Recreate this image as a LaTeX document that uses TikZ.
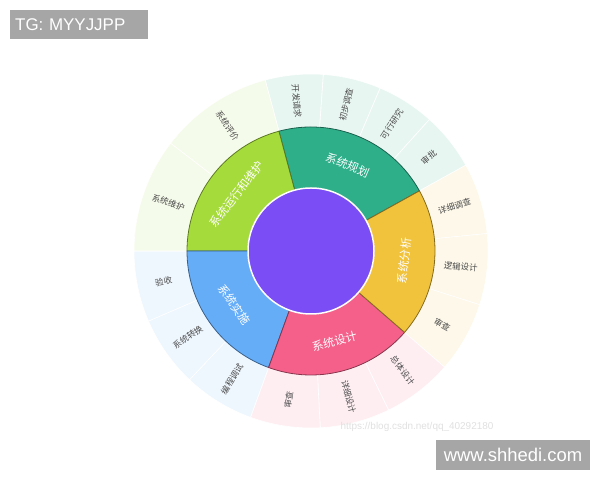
\documentclass[tikz,border=0pt]{standalone}
\usepackage{fontspec}
\setmainfont{Noto Sans CJK SC}
\newfontfamily\markfont{Liberation Sans}

\definecolor{core}{HTML}{7B4DF5}
\definecolor{plan}{HTML}{2EAF8A}
\definecolor{anal}{HTML}{F1C23B}
\definecolor{desg}{HTML}{F4608A}
\definecolor{impl}{HTML}{66ADF8}
\definecolor{oper}{HTML}{A6DB3C}

\def\rcore{63}
\def\rmid{124}
\def\rout{177}

\begin{document}
\begin{tikzpicture}[x=1bp,y=1bp]
    \tikzstyle{phase label}=[text=white,font=\fontsize{11.5}{11.5}\selectfont,inner sep=0pt]
    \tikzstyle{step label}=[text=black!70,font=\fontsize{8.5}{8.5}\selectfont,inner sep=0pt]
    \tikzstyle{mark box}=[fill=black!35,text=white,inner ysep=0pt]

    \useasboundingbox (0,0) rectangle (600,480);

    \begin{scope}[shift={(311,229)}]
    % Draw the outer ring of steps
    \foreach \name/\a/\b/\col/\rot/\txt in {
        1/86/105/plan/-84.5/开发请求, 2/67/86/plan/76.5/初步调查,
        3/48/67/plan/57.5/可行研究, 4/29/48/plan/38.5/审批,
        5/5.67/29/anal/17.3/详细调查, 6/-17.67/5.67/anal/-6/逻辑设计,
        7/-41/-17.67/anal/-29.3/审查, 8/-64/-41/desg/-52.5/总体设计,
        9/-87/-64/desg/-75.5/详细设计, 10/-110/-87/desg/81.5/审查,
        11/-133.33/-110/impl/58.3/编程调试, 12/-156.67/-133.33/impl/35/系统转换,
        13/-180/-156.67/impl/11.7/验收, 14/105/142.5/oper/-56.25/系统评价,
        15/142.5/180/oper/-18.75/系统维护}
    {
        \pgfmathsetmacro\m{(\a+\b)/2}
        \filldraw[fill=\col!11, draw=white, line width=0.6]
            (\a:\rmid) arc[start angle=\a, end angle=\b, radius=\rmid]
            -- (\b:\rout) arc[start angle=\b, end angle=\a, radius=\rout] -- cycle;
        \node[step label, rotate=\rot] (S-\name) at (\m:150.5) {\txt};
    }

    % Draw the inner ring of phases
    \foreach \name/\a/\b/\col/\rot/\txt in {
        plan/29/105/plan/-23/系统规划, oper/105/180/oper/52.5/系统运行和维护,
        impl/180/250/impl/-55/系统实施, desg/250/319/desg/14.5/系统设计,
        anal/319/389/anal/84/系统分析}
    {
        \pgfmathsetmacro\m{(\a+\b)/2}
        \filldraw[fill=\col, draw=\col!55!black, line width=0.8]
            (\a:\rcore) arc[start angle=\a, end angle=\b, radius=\rcore]
            -- (\b:\rmid) arc[start angle=\b, end angle=\a, radius=\rmid] -- cycle;
        \node[phase label, rotate=\rot] (P-\name) at (\m:93.5) {\txt};
    }

    % Draw the core
    \node[circle, fill=core, draw=white, line width=1.5, minimum size=126bp, inner sep=0pt] (root) at (0,0) {};
    \end{scope}

    % Watermarks
    \node[mark box, anchor=north west, inner xsep=5bp, text width=128bp, minimum height=29bp,
        align=left, font=\markfont\fontsize{17}{17}\selectfont] (tg) at (10,470) {TG: MYYJJPP};
    \node[mark box, minimum width=154bp, minimum height=30bp,
        font=\markfont\fontsize{18.5}{18.5}\selectfont] (site) at (513,25) {www.shhedi.com};
    \node[text=black!12, font=\markfont\fontsize{10}{10}\selectfont] (csdn) at (417,53) {https://blog.csdn.net/qq\_40292180};
\end{tikzpicture}
\end{document}
